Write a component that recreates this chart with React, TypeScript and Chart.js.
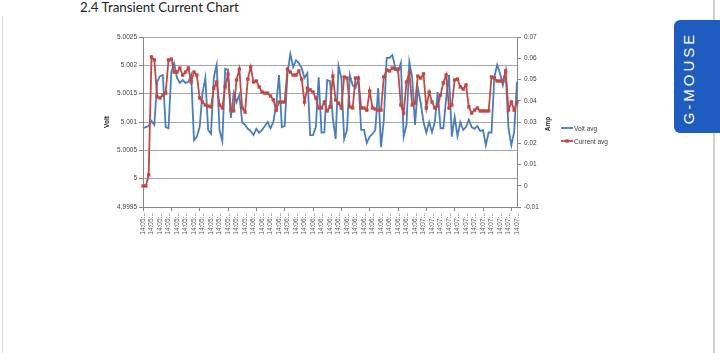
import React, { useEffect, useRef } from "react";
import { Chart, registerables } from "chart.js";

Chart.register(...registerables);

const timeLabels: string[] = [
  "14:05:21", "14:05:22", "14:05:23", "14:05:24", "14:05:25", "14:05:26", "14:05:27", "14:05:28", "14:05:29", "14:05:30",
  "14:05:31", "14:05:32", "14:05:33", "14:05:34", "14:05:35", "14:05:36", "14:05:37", "14:05:38", "14:05:39", "14:05:40",
  "14:05:41", "14:05:42", "14:05:43", "14:05:44", "14:05:45", "14:05:46", "14:05:47", "14:05:48", "14:05:49", "14:05:50",
  "14:05:51", "14:05:52", "14:05:53", "14:05:54", "14:05:55", "14:05:56", "14:05:57", "14:05:58", "14:05:59",
  "14:06:00", "14:06:01", "14:06:02", "14:06:03", "14:06:04", "14:06:05", "14:06:06", "14:06:07", "14:06:08", "14:06:09",
  "14:06:10", "14:06:11", "14:06:12", "14:06:13", "14:06:14", "14:06:15", "14:06:16", "14:06:17", "14:06:18", "14:06:19",
  "14:06:20", "14:06:21", "14:06:22", "14:06:23", "14:06:24", "14:06:25", "14:06:26", "14:06:27", "14:06:28", "14:06:29",
  "14:06:30", "14:06:31", "14:06:32", "14:06:33", "14:06:34", "14:06:35", "14:06:36", "14:06:37", "14:06:38", "14:06:39",
  "14:06:40", "14:06:41", "14:06:42", "14:06:43", "14:06:44", "14:06:45", "14:06:46", "14:06:47", "14:06:48", "14:06:49",
  "14:06:50", "14:06:51", "14:06:52", "14:06:53", "14:06:54", "14:06:55", "14:06:56", "14:06:57", "14:06:58", "14:06:59",
  "14:07:00", "14:07:01", "14:07:02", "14:07:03", "14:07:04", "14:07:05", "14:07:06", "14:07:07", "14:07:08", "14:07:09",
  "14:07:10", "14:07:11", "14:07:12", "14:07:13", "14:07:14", "14:07:15", "14:07:16", "14:07:17", "14:07:18", "14:07:19",
  "14:07:20", "14:07:21", "14:07:22", "14:07:23", "14:07:24", "14:07:25", "14:07:26", "14:07:27", "14:07:28", "14:07:29",
  "14:07:30", "14:07:31", "14:07:32", "14:07:33",
];

const voltAvg: number[] = [
  5.00089, 5.00091, 5.00093, 5.00102, 5.00095, 5.00171, 5.00181, 5.00183, 5.00091, 5.00089,
  5.00188, 5.00204, 5.00178, 5.00169, 5.00174, 5.00169, 5.00171, 5.00183, 5.00068, 5.00074,
  5.00091, 5.00151, 5.00178, 5.00086, 5.00079, 5.00179, 5.00201, 5.00086, 5.00066, 5.00194,
  5.00192, 5.00107, 5.00151, 5.00135, 5.00148, 5.001, 5.00095, 5.00088, 5.00084, 5.00077,
  5.00088, 5.00081, 5.00086, 5.00093, 5.001, 5.00089, 5.001, 5.0013, 5.00183, 5.00091,
  5.00093, 5.00186, 5.0022, 5.00197, 5.00209, 5.00204, 5.00195, 5.00178, 5.00186, 5.00077,
  5.00077, 5.00091, 5.00179, 5.00081, 5.00082, 5.00174, 5.00172, 5.00107, 5.0007, 5.00199,
  5.00178, 5.0007, 5.00086, 5.00183, 5.00165, 5.0016, 5.00176, 5.00086, 5.00086, 5.00063,
  5.00074, 5.00079, 5.00086, 5.0016, 5.00056, 5.00104, 5.00213, 5.00213, 5.00218, 5.00197,
  5.00188, 5.00204, 5.00074, 5.00095, 5.00206, 5.00179, 5.00095, 5.0016, 5.00134, 5.001,
  5.00081, 5.001, 5.00082, 5.001, 5.00153, 5.00089, 5.00089, 5.00142, 5.00183, 5.00074,
  5.00109, 5.00075, 5.001, 5.00086, 5.00091, 5.00104, 5.00091, 5.00088, 5.00093, 5.00084,
  5.00086, 5.00059, 5.00082, 5.00081, 5.00179, 5.00201, 5.00186, 5.00165, 5.00188, 5.00089,
  5.00059, 5.00082, 5.00171,
];

const currentAvg: number[] = [
  -0.0001, -0.0001, 0.0051, 0.0606, 0.0592, 0.0418, 0.0413, 0.0427, 0.0436, 0.0592,
  0.0596, 0.0535, 0.0535, 0.0554, 0.0521, 0.0535, 0.0554, 0.0488, 0.0535, 0.0521,
  0.0413, 0.0394, 0.038, 0.0375, 0.0371, 0.046, 0.0488, 0.038, 0.0366, 0.0465,
  0.0526, 0.0356, 0.0352, 0.0498, 0.0549, 0.0366, 0.0347, 0.0502, 0.0559, 0.0488,
  0.0493, 0.0465, 0.0441, 0.0436, 0.0436, 0.0422, 0.0404, 0.0356, 0.0394, 0.0394,
  0.0394, 0.0549, 0.0535, 0.0521, 0.0521, 0.054, 0.0502, 0.0394, 0.046, 0.0451,
  0.0441, 0.0413, 0.0366, 0.0366, 0.0394, 0.0352, 0.0371, 0.0516, 0.0404, 0.0389,
  0.0366, 0.0512, 0.0507, 0.0371, 0.0366, 0.0507, 0.0507, 0.0366, 0.0366, 0.0356,
  0.0446, 0.0366, 0.0361, 0.0356, 0.0356, 0.0512, 0.0545, 0.054, 0.0554, 0.0549,
  0.0549, 0.038, 0.0342, 0.0488, 0.0531, 0.038, 0.0389, 0.0516, 0.0507, 0.0526,
  0.0366, 0.0441, 0.0394, 0.0366, 0.0375, 0.0427, 0.0484, 0.0521, 0.0366, 0.038,
  0.0498, 0.0502, 0.0465, 0.0455, 0.0474, 0.0371, 0.0342, 0.0356, 0.0366, 0.0352,
  0.0352, 0.0352, 0.0352, 0.0512, 0.0507, 0.0493, 0.0493, 0.0493, 0.054, 0.0356,
  0.0394, 0.0356, 0.0394,
];

const voltTicks = { min: 4.9995, max: 5.0025, step: 0.0005 };
const ampTicks = { min: -0.01, max: 0.07, step: 0.01 };

const BLUE = "#4a7ebb";
const RED = "#be4b48";
const FONT = "'Liberation Sans', Arial, sans-serif";

export default function App() {
  const ref = useRef<HTMLCanvasElement | null>(null);

  useEffect(() => {
    if (!ref.current) return;
    const chart = new Chart(ref.current, {
      type: "line",
      data: {
        labels: timeLabels,
        datasets: [
          {
            label: "Volt avg",
            data: voltAvg,
            yAxisID: "yV",
            borderColor: BLUE,
            backgroundColor: BLUE,
            borderWidth: 1.8,
            pointRadius: 0,
            tension: 0,
            order: 1,
          },
          {
            label: "Current avg",
            data: currentAvg,
            yAxisID: "yA",
            borderColor: RED,
            backgroundColor: RED,
            borderWidth: 1.8,
            pointRadius: 2.4,
            pointStyle: "rect",
            pointBorderWidth: 0,
            tension: 0,
            order: 0,
          },
        ],
      },
      options: {
        responsive: false,
        animation: false,
        events: [],
        layout: { padding: { left: 99, right: 164, top: 37, bottom: 106 } },
        plugins: { legend: { display: false }, tooltip: { enabled: false } },
        scales: {
          x: {
            type: "category",
            offset: false,
            grid: {
              display: true,
              drawOnChartArea: false,
              drawTicks: true,
              tickLength: 4,
              color: (c: any) => (c.index % 10 === 0 ? "#868686" : "rgba(0,0,0,0)"),
            },
            border: { display: true, color: "#868686", width: 1 },
            ticks: {
              autoSkip: false,
              maxRotation: 90,
              minRotation: 90,
              padding: 2,
              color: "#595959",
              font: { family: FONT, size: 6.5 },
              callback: (_v: any, i: number) => (i % 3 === 0 ? timeLabels[i].slice(0, 6) + ".." : ""),
            },
            afterFit: (s: any) => {
              s.height = 40;
            },
          },
          yV: {
            type: "linear",
            position: "left",
            min: voltTicks.min,
            max: voltTicks.max,
            grid: { color: "#a6a6a6", tickColor: "#868686", tickLength: 4, drawTicks: true },
            border: { display: true, color: "#868686", width: 1 },
            ticks: {
              stepSize: voltTicks.step,
              padding: 2,
              color: "#404040",
              font: { family: FONT, size: 6.5 },
              callback: (v: any) => String(Number(Number(v).toFixed(4))),
            },
            afterFit: (s: any) => {
              s.width = 44;
            },
          },
          yA: {
            type: "linear",
            position: "right",
            min: ampTicks.min,
            max: ampTicks.max,
            grid: { drawOnChartArea: false, color: "#868686", tickLength: 4, drawTicks: true },
            border: { display: true, color: "#868686", width: 1 },
            ticks: {
              stepSize: ampTicks.step,
              padding: 3,
              color: "#404040",
              font: { family: FONT, size: 6.5 },
              callback: (v: any) => String(Number(Number(v).toFixed(2))),
            },
            afterFit: (s: any) => {
              s.width = 39;
            },
          },
        },
      },
    });
    return () => chart.destroy();
  }, []);

  const abs: React.CSSProperties = { position: "absolute" };
  const rotText = (cx: number, cy: number, text: string) => (
    <div
      style={{
        ...abs,
        left: cx,
        top: cy,
        transform: "translate(-50%, -50%) rotate(-90deg)",
        whiteSpace: "nowrap",
        font: `bold 6.5px ${FONT}`,
        color: "#262626",
        lineHeight: "8px",
      }}
    >
      {text}
    </div>
  );

  return (
    <div style={{ ...abs, left: 0, top: 0, width: 720, height: 353, background: "#fff", overflow: "hidden" }}>
      <div style={{ ...abs, left: 2, top: 16, width: 1, height: 337, background: "#d9d9d9" }} />
      <div style={{ ...abs, left: 713, top: 0, width: 2, height: 353, background: "#cfcfcf" }} />
      <div
        style={{
          ...abs,
          left: 80,
          top: 0,
          font: "400 13.3px Lato, 'Open Sans', sans-serif",
          lineHeight: "15px",
          color: "#222222",
          whiteSpace: "nowrap",
        }}
      >
        2.4 Transient Current Chart
      </div>
      <canvas ref={ref} width={720} height={353} style={{ ...abs, left: 0, top: 0, width: 720, height: 353 }} />
      {rotText(107, 122, "Volt")}
      {rotText(548, 124, "Amp")}
      <div style={{ ...abs, left: 561, top: 124, display: "flex", alignItems: "center", height: 8 }}>
        <svg width={12} height={6} style={{ display: "block" }}>
          <line x1={0} y1={3} x2={12} y2={3} stroke={BLUE} strokeWidth={1.8} />
        </svg>
        <span style={{ font: `6.5px ${FONT}`, color: "#404040", marginLeft: 1, whiteSpace: "nowrap" }}>Volt avg</span>
      </div>
      <div style={{ ...abs, left: 561, top: 137, display: "flex", alignItems: "center", height: 8 }}>
        <svg width={12} height={6} style={{ display: "block" }}>
          <line x1={0} y1={3} x2={12} y2={3} stroke={RED} strokeWidth={1.8} />
          <rect x={4.3} y={1.3} width={3.4} height={3.4} fill={RED} />
        </svg>
        <span style={{ font: `6.5px ${FONT}`, color: "#404040", marginLeft: 1, whiteSpace: "nowrap" }}>Current avg</span>
      </div>
      <div
        style={{
          ...abs,
          left: 674,
          top: 20,
          width: 46,
          height: 113,
          background: "#1f5cbf",
          borderRadius: "6px 0 0 6px",
        }}
      />
      <div
        style={{
          ...abs,
          left: 689,
          top: 78,
          transform: "translate(-50%, -50%) rotate(-90deg)",
          whiteSpace: "nowrap",
          font: `15px ${FONT}`,
          letterSpacing: "3px",
          color: "#ffffff",
          lineHeight: "16px",
        }}
      >
        G-MOUSE
      </div>
    </div>
  );
}
